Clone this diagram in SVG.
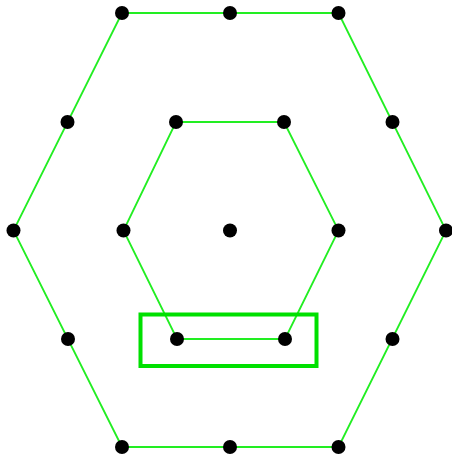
<svg xmlns="http://www.w3.org/2000/svg" width="452" height="457" viewBox="0 0 452 457">
<style>
.e{stroke:#22ee22;stroke-width:1.8;fill:none}
.n{fill:#000}
.hl{fill:none;stroke:#00e000;stroke-width:4}
</style>
<rect width="452" height="457" fill="#fff"/>
<g id="connectors">
<polygon class="e" points="122,13 338.5,13 446,230.5 338.5,447 122,447 13.5,230.5"/>
<polygon class="e" points="176,122 284,122 338.5,230.5 285,339 177,339 123.5,230.5"/>
</g>
<rect id="highlight" class="hl" x="140.5" y="314.5" width="176" height="51.5"/>
<g id="o1"><circle class="n" cx="122" cy="13" r="7"/></g>
<g id="o2"><circle class="n" cx="230" cy="13" r="7"/></g>
<g id="o3"><circle class="n" cx="338.5" cy="13" r="7"/></g>
<g id="o4"><circle class="n" cx="392.5" cy="122" r="7"/></g>
<g id="o5"><circle class="n" cx="446" cy="230.5" r="7"/></g>
<g id="o6"><circle class="n" cx="392.5" cy="339" r="7"/></g>
<g id="o7"><circle class="n" cx="338.5" cy="447" r="7"/></g>
<g id="o8"><circle class="n" cx="230" cy="447" r="7"/></g>
<g id="o9"><circle class="n" cx="122" cy="447" r="7"/></g>
<g id="o10"><circle class="n" cx="68" cy="339" r="7"/></g>
<g id="o11"><circle class="n" cx="13.5" cy="230.5" r="7"/></g>
<g id="o12"><circle class="n" cx="67.5" cy="122" r="7"/></g>
<g id="i1"><circle class="n" cx="176" cy="122" r="7"/></g>
<g id="i2"><circle class="n" cx="284" cy="122" r="7"/></g>
<g id="i3"><circle class="n" cx="338.5" cy="230.5" r="7"/></g>
<g id="i4"><circle class="n" cx="285" cy="339" r="7"/></g>
<g id="i5"><circle class="n" cx="177" cy="339" r="7"/></g>
<g id="i6"><circle class="n" cx="123.5" cy="230.5" r="7"/></g>
<g id="c"><circle class="n" cx="230" cy="230.5" r="7"/></g>
</svg>
